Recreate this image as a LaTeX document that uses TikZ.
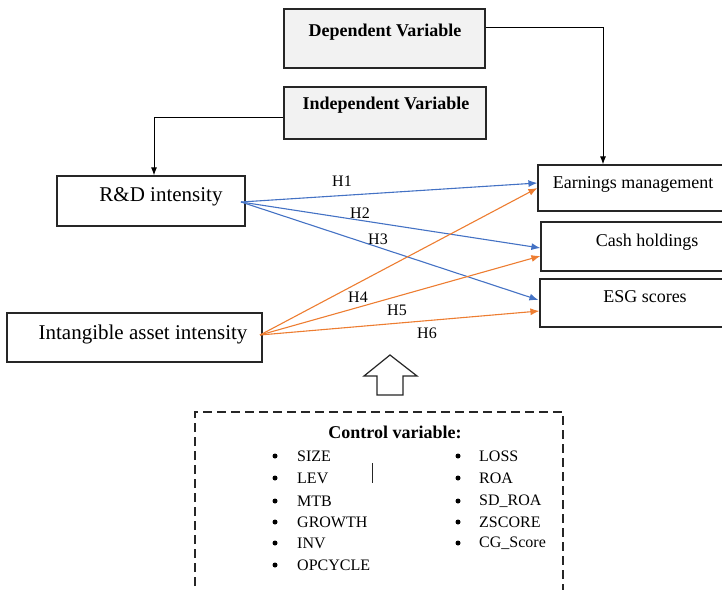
\documentclass[tikz,border=0pt]{standalone}
\usepackage{fontspec}
\setmainfont{Liberation Serif}
\usetikzlibrary{arrows.meta,calc}
\definecolor{hblue}{HTML}{4472C4}
\definecolor{horange}{HTML}{ED7D31}
\definecolor{boxgray}{HTML}{F2F2F2}
\definecolor{edge}{HTML}{262626}
\begin{document}
\begin{tikzpicture}[x=1pt,y=-1pt,
  box/.style={draw=edge,line width=1.2pt,rectangle,inner sep=0pt},
  graybox/.style={box,fill=boxgray},
  big/.style={font=\fontsize{21}{24}\selectfont},
  mid/.style={font=\fontsize{18}{21}\selectfont},
  midb/.style={font=\fontsize{18}{21}\selectfont\bfseries},
  small/.style={font=\fontsize{16}{19}\selectfont},
  hyp/.style={line width=1.1pt,-{Latex[length=9pt,width=7pt]}},
  blk/.style={line width=1pt,draw=black,-{Latex[length=8pt,width=6pt]}},
  itm/.style={small,anchor=west,inner sep=0pt},
  bul/.style={fill=black,circle,inner sep=0pt,minimum size=5pt}
]
\useasboundingbox (0,0) rectangle (722,589);
% boxes
\node[graybox,minimum width=201pt,minimum height=59pt] (dep) at (384.5,38.5) {};
\node[graybox,minimum width=202pt,minimum height=52pt] (ind) at (385,113) {};
\node[box,minimum width=188pt,minimum height=50pt] (rd) at (151,201) {};
\node[box,minimum width=255pt,minimum height=49pt] (ia) at (134.5,337.5) {};
\node[box,minimum width=186pt,minimum height=46pt] (em) at (631,188) {};
\node[box,minimum width=183pt,minimum height=49pt] (ch) at (632.5,246.5) {};
\node[box,minimum width=184pt,minimum height=48pt] (esg) at (632,303) {};
% texts
\node[midb] (tdep) at (385,32) {Dependent Variable};
\node[midb] (tind) at (386,105) {Independent Variable};
\node[big] (trd) at (161,197) {R\&D intensity};
\node[big] (tia) at (143,334) {Intangible asset intensity};
\node[mid] (tem) at (633,184) {Earnings management};
\node[mid] (tch) at (647,242) {Cash holdings};
\node[mid] (tesg) at (645,297) {ESG scores};
% black connectors
\draw[blk] ($(dep.east)+(0,-11)$) -| ($(em.north)+(-28,0)$);
\draw[blk] ($(ind.west)+(0,4)$) -| ($(rd.north)+(3,0)$);
% hypotheses
\coordinate (rdout) at (241,202);
\coordinate (iaout) at (260,335);
\draw[hyp,hblue] (rdout) -- ($(em.west)+(0,-5)$);
\draw[hyp,hblue] (rdout) -- ($(ch.west)+(0,1.5)$);
\draw[hyp,hblue] (rdout) -- ($(esg.west)+(-1,-3)$);
\draw[hyp,horange] (iaout) -- ($(em.west)+(0,0)$);
\draw[hyp,horange] (iaout) -- ($(ch.west)+(0,9.5)$);
\draw[hyp,horange] (iaout) -- ($(esg.west)+(0,8)$);
\node[small] (h1) at (342,181) {H1};
\node[small] (h2) at (360,213) {H2};
\node[small] (h3) at (378,239) {H3};
\node[small] (h4) at (358,297) {H4};
\node[small] (h5) at (397,310) {H5};
\node[small] (h6) at (427,333) {H6};
% hollow up arrow
\draw[line width=1.2pt,draw=edge,fill=white] (377,395) -- (403,395) -- (403,376) -- (417,376) -- (390,355) -- (364,376) -- (377,376) -- cycle;
% control box
\draw[line width=1.1pt,draw=edge,dash pattern=on 9pt off 5pt] (195,600) -- (195,412) -- (563,412) -- (563,600);
\node[midb] (ctitle) at (395,432) {Control variable:};
\foreach \t/\y [count=\i] in {SIZE/456,LEV/478,MTB/501,GROWTH/522,INV/543,OPCYCLE/565}{
  \node[bul] (lb\i) at (275,\y) {};
  \node[itm] (lt\i) at (297,\y) {\t};
}
\foreach \t/\y [count=\i] in {LOSS/456,ROA/478,SD\_ROA/501,ZSCORE/522,CG\_Score/543}{
  \node[bul] (rb\i) at (458,\y) {};
  \node[itm] (rt\i) at (479,\y) {\t};
}
\draw[line width=1pt,draw=edge] (372,463) -- (372,483);
\end{tikzpicture}
\end{document}
